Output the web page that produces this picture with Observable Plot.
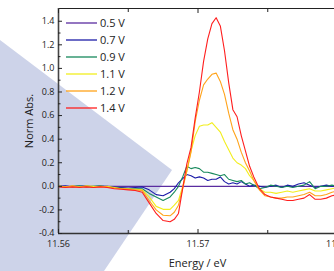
<!DOCTYPE html>
<html>
<head>
<meta charset="utf-8">
<script src="https://cdn.jsdelivr.net/npm/d3@7"></script>
<script src="https://cdn.jsdelivr.net/npm/@observablehq/plot@0.6"></script>
<style>
html, body { margin: 0; padding: 0; background: #fff; }
#wrap { position: relative; width: 334px; height: 271px; overflow: hidden; font-family: "Open Sans", sans-serif; }
#bg { position: absolute; left: 0; top: 0; width: 334px; height: 271px; background: #cdd3e9;
      clip-path: polygon(0px 40px, 172px 170px, 104px 271px, 0px 271px); }
#chart { position: absolute; left: 0; top: 0; width: 350px; height: 271px; }
#chart svg { max-width: none !important; width: 350px; height: 271px; }
</style>
</head>
<body>
<div id="wrap">
  <div id="bg"></div>
  <div id="chart"></div>
</div>
<script>
// ---- data ----
const energy = [
  11.5600, 11.5605, 11.5610, 11.5615, 11.5620, 11.5625, 11.5630, 11.5635, 11.5640,
  11.5645, 11.5650, 11.5655, 11.5660, 11.5665, 11.5670, 11.5675, 11.5680,
  11.5683, 11.5686, 11.5689, 11.5692, 11.5695, 11.5698, 11.5701, 11.5704, 11.5707, 11.5710,
  11.5713, 11.5716, 11.5719, 11.5722, 11.5725, 11.5728, 11.5731, 11.5734, 11.5737, 11.5740,
  11.5744, 11.5748, 11.5752, 11.5756, 11.5760, 11.5764, 11.5768, 11.5772, 11.5776, 11.5780,
  11.5784, 11.5788, 11.5792, 11.5796, 11.5800
];
const v05 = [
  0, 0, 0, 0, 0, 0, 0, 0, 0,
  0, 0, 0, 0, 0, 0, 0, 0,
  0, 0, 0, 0, 0, 0, 0, 0, 0, 0,
  0, 0, 0, 0, 0, 0, 0, 0, 0, 0,
  0, 0, 0, 0, 0, 0, 0, 0, 0, 0,
  0, 0, 0, 0, 0
];
const v07 = [
  0, 0.005, -0.005, 0, 0.005, -0.005, 0, 0, -0.01,
  -0.01, -0.015, -0.01, -0.005, -0.03, -0.07, -0.08, -0.05,
  -0.02, 0.03, 0.065, 0.10, 0.09, 0.07, 0.08, 0.07, 0.05, 0.06,
  0.06, 0.08, 0.04, 0.02, 0.03, 0.02, 0.04, 0.02, 0.0, 0.01,
  0.0, -0.01, 0.0, 0.01, -0.01, 0.01, 0.0, 0.02, 0.03, 0.01,
  -0.01, 0.0, 0.01, 0.0, 0.01
];
const v09 = [
  0, -0.005, 0, 0.005, -0.005, 0, 0.005, -0.005, -0.01,
  -0.015, -0.02, -0.02, -0.02, -0.06, -0.09, -0.12, -0.09,
  -0.05, 0.0, 0.08, 0.17, 0.15, 0.16, 0.15, 0.12, 0.12, 0.11,
  0.10, 0.09, 0.10, 0.06, 0.05, 0.04, 0.05, 0.02, 0.03, 0.01,
  -0.02, -0.01, 0.01, 0.0, -0.01, 0.0, -0.01, 0.0, 0.01, 0.04,
  -0.02, 0.0, 0.0, 0.01, 0.0
];
const v11 = [
  0.005, -0.005, 0, -0.005, 0.005, 0, -0.005, 0, -0.01,
  -0.02, -0.02, -0.025, -0.03, -0.09, -0.17, -0.195, -0.195,
  -0.16, -0.12, 0.0, 0.13, 0.30, 0.43, 0.51, 0.52, 0.52, 0.54,
  0.50, 0.46, 0.38, 0.31, 0.24, 0.20, 0.18, 0.15, 0.09, 0.05,
  -0.02, -0.05, -0.05, -0.06, -0.05, -0.04, -0.05, -0.04, -0.03, -0.02,
  -0.04, -0.04, -0.03, -0.02, -0.01
];
const v12 = [
  0, -0.005, 0.005, -0.005, 0, -0.01, 0, -0.005, -0.015,
  -0.02, -0.025, -0.03, -0.034, -0.12, -0.20, -0.245, -0.25,
  -0.22, -0.16, -0.02, 0.13, 0.29, 0.55, 0.73, 0.86, 0.91, 0.95,
  0.96, 0.89, 0.78, 0.62, 0.48, 0.40, 0.29, 0.20, 0.13, 0.05,
  -0.03, -0.08, -0.09, -0.10, -0.10, -0.09, -0.09, -0.08, -0.07, -0.05,
  -0.08, -0.08, -0.07, -0.05, -0.04
];
const v14 = [
  -0.005, -0.01, -0.005, -0.01, -0.005, -0.01, -0.005, -0.01, -0.02,
  -0.025, -0.03, -0.035, -0.05, -0.14, -0.23, -0.29, -0.30,
  -0.28, -0.23, -0.02, 0.19, 0.33, 0.58, 0.80, 1.06, 1.25, 1.38,
  1.43, 1.36, 1.15, 0.88, 0.65, 0.59, 0.43, 0.30, 0.17, 0.08,
  -0.02, -0.07, -0.09, -0.10, -0.11, -0.12, -0.12, -0.11, -0.10, -0.07,
  -0.11, -0.11, -0.10, -0.08, -0.07
];
const seriesNames = ["0.5 V", "0.7 V", "0.9 V", "1.1 V", "1.2 V", "1.4 V"];
const seriesColors = ["#5a2ca0", "#1c1ca8", "#17895c", "#f2ee1e", "#ffa31a", "#ff1e1e"];
const seriesValues = [v05, v07, v09, v11, v12, v14];

const xTicks = [11.56, 11.57, 11.58];
const xMinor = [11.565, 11.575];
const yTicks = [-0.4, -0.2, 0.0, 0.2, 0.4, 0.6, 0.8, 1.0, 1.2, 1.4];
const yMinor = [-0.3, -0.1, 0.1, 0.3, 0.5, 0.7, 0.9, 1.1, 1.3];
const xDomain = [11.56, 11.58];
const yDomain = [-0.4, 1.508];
const xTitle = "Energy / eV";
const yTitle = "Norm Abs.";

// ---- build table ----
const rows = [];
seriesValues.forEach((vals, s) => {
  vals.forEach((v, i) => rows.push({series: seriesNames[s], energy: energy[i], value: v}));
});

const lineMarks = seriesNames.map((name, s) =>
  Plot.lineY(rows.filter(r => r.series === name), {x: "energy", y: "value", stroke: seriesColors[s], strokeWidth: 1.1})
);

const noText = () => "";

const chart = Plot.plot({
  width: 350,
  height: 271,
  marginTop: 8,
  marginLeft: 58,
  marginRight: 13,
  marginBottom: 38,
  style: {fontFamily: "Open Sans, sans-serif", fontSize: "9px", color: "#222", background: "transparent", overflow: "visible", maxWidth: "none"},
  x: {domain: xDomain},
  y: {domain: yDomain},
  marks: [
    ...lineMarks,
    Plot.frame({stroke: "#222", strokeWidth: 1}),
    Plot.ruleX([xDomain[0]], {stroke: "#444", strokeWidth: 1.6}),
    Plot.ruleY([yDomain[0]], {stroke: "#333", strokeWidth: 1.4}),
    // bottom axis: labels, major & minor ticks
    Plot.axisX({ticks: xTicks, tickSize: 0, tickPadding: 7, tickFormat: d => d.toFixed(2), label: null}),
    Plot.axisX({ticks: xTicks, tickSize: -4, tickFormat: noText, label: null}),
    Plot.axisX({ticks: xMinor, tickSize: -3, tickFormat: noText, label: null}),
    // top axis
    Plot.axisX({anchor: "top", ticks: xTicks, tickSize: -4, tickFormat: noText, label: null}),
    Plot.axisX({anchor: "top", ticks: xMinor, tickSize: -3, tickFormat: noText, label: null}),
    // left axis
    Plot.axisY({ticks: yTicks, tickSize: 0, tickPadding: 4, tickFormat: d => d.toFixed(1), label: null}),
    Plot.axisY({ticks: yTicks, tickSize: -4, tickFormat: noText, label: null}),
    Plot.axisY({ticks: yMinor, tickSize: -2.5, tickFormat: noText, label: null}),
    // right axis
    Plot.axisY({anchor: "right", ticks: yTicks, tickSize: -4, tickFormat: noText, label: null}),
    Plot.axisY({anchor: "right", ticks: yMinor, tickSize: -2.5, tickFormat: noText, label: null})
  ]
});
document.getElementById("chart").appendChild(chart);

const svg = d3.select(chart);
// axis titles
svg.append("text")
  .attr("transform", "translate(33,121) rotate(-90)")
  .attr("text-anchor", "middle")
  .attr("font-size", 11)
  .attr("fill", "#222")
  .attr("font-family", "Open Sans, sans-serif")
  .text(yTitle);
svg.append("text")
  .attr("x", 197.5)
  .attr("y", 267)
  .attr("text-anchor", "middle")
  .attr("font-size", 11)
  .attr("fill", "#222")
  .attr("font-family", "Open Sans, sans-serif")
  .text(xTitle);

// legend (inside the frame, top-left)
const lg = svg.append("g").attr("transform", "translate(66,23)");
seriesNames.forEach((name, s) => {
  const g = lg.append("g").attr("transform", `translate(0,${s * 17})`);
  g.append("line").attr("x1", 0).attr("x2", 31).attr("y1", 0).attr("y2", 0)
    .attr("stroke", seriesColors[s]).attr("stroke-width", 1.3);
  g.append("text").attr("x", 34).attr("y", 0).attr("dy", "0.36em")
    .attr("text-anchor", "start")
    .attr("font-size", 11).attr("fill", "#222")
    .attr("font-family", "Open Sans, sans-serif").text(name);
});
</script>
</body>
</html>
